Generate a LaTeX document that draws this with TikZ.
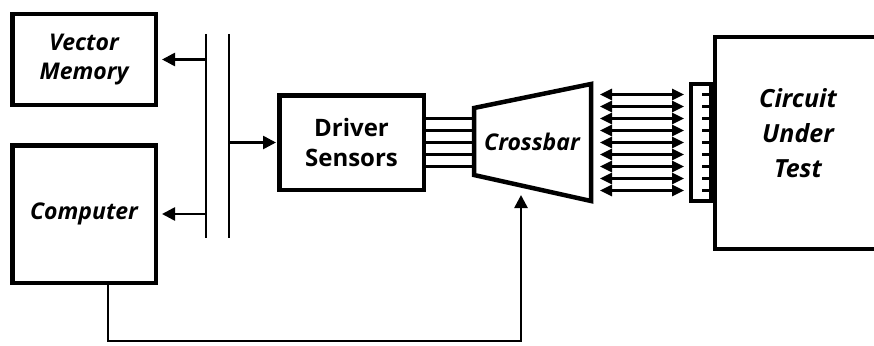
\documentclass[tikz,border=0pt]{standalone}
\usepackage{fontspec}
\setmainfont{Open Sans}
\usetikzlibrary{arrows.meta,positioning}

\begin{document}
\begin{tikzpicture}[
  x=1pt, y=-1pt,
  block/.style={draw, line width=4.5pt, align=center, inner sep=0pt,
                font=\fontsize{23}{29}\selectfont\bfseries\itshape},
  bus/.style={line width=2.8pt},
  arrow/.style={-{Triangle[length=13pt, width=13pt]}, line width=2.6pt},
  dblarrow/.style={{Triangle[length=12pt, width=11pt]}-{Triangle[length=12pt, width=11pt]},
                   line width=2.6pt},
  wire/.style={line width=2.6pt}
]
  \useasboundingbox (0,0) rectangle (874,345);

  \node[block, minimum width=143.5pt, minimum height=90.5pt] (vm) at (84,59.5) {Vector\\Memory};
  \node[block, minimum width=143.5pt, minimum height=137.5pt] (comp) at (84,214) {Computer};
  \node[block, minimum width=144.5pt, minimum height=94.5pt,
        font=\fontsize{24}{30}\selectfont\bfseries] (drv) at (351.5,142.5) {Driver\\Sensors};
  \node[draw, line width=4pt, minimum width=20pt, minimum height=117pt] (conn) at (701,142.5) {};

  \coordinate (busa) at (206,34);
  \coordinate (busb) at (229,34);
  \draw[bus] (busa) -- ++(0,204);
  \draw[bus] (busb) -- ++(0,204);

  \draw[arrow, shorten >=4pt] (vm -| busa) -- (vm.east);
  \draw[arrow, shorten >=4pt] (comp -| busa) -- (comp.east);
  \draw[arrow, shorten >=1pt] (drv -| busb) -- (drv.west);

  \draw[line width=4.5pt, line join=miter] (474,108) -- (591,84) -- (591,201) -- (474,175) -- cycle;
  \node[font=\fontsize{23}{29}\selectfont\bfseries\itshape] (xbar) at (532,142) {Crossbar};
  \coordinate (xl) at (472,142.5);
  \coordinate (xr) at (593,142.5);
  \coordinate (xbot) at (521,195);

  \foreach \d in {-24,-12,0,12,24}
    \draw[wire] ([yshift=\d pt]drv.east) -- ([yshift=\d pt]drv.east -| xl);

  \foreach \d in {-48,-36,...,48} {
    \draw[dblarrow, shorten <=7pt, shorten >=5pt] ([yshift=\d pt]xr) -- ([yshift=\d pt]conn.west);
    \draw[wire] ([yshift=\d pt]conn.east) -- ++(-11,0);
  }

  \draw[line width=4.5pt] (880,37) -| (715,249) -- (880,249);
  \node[font=\fontsize{25}{35}\selectfont\bfseries\itshape, align=center] (cut) at (798,133) {Circuit\\Under\\Test};

  \draw[arrow] ([xshift=24pt]comp.south) -- ++(0,56) -| (xbot);
\end{tikzpicture}
\end{document}
